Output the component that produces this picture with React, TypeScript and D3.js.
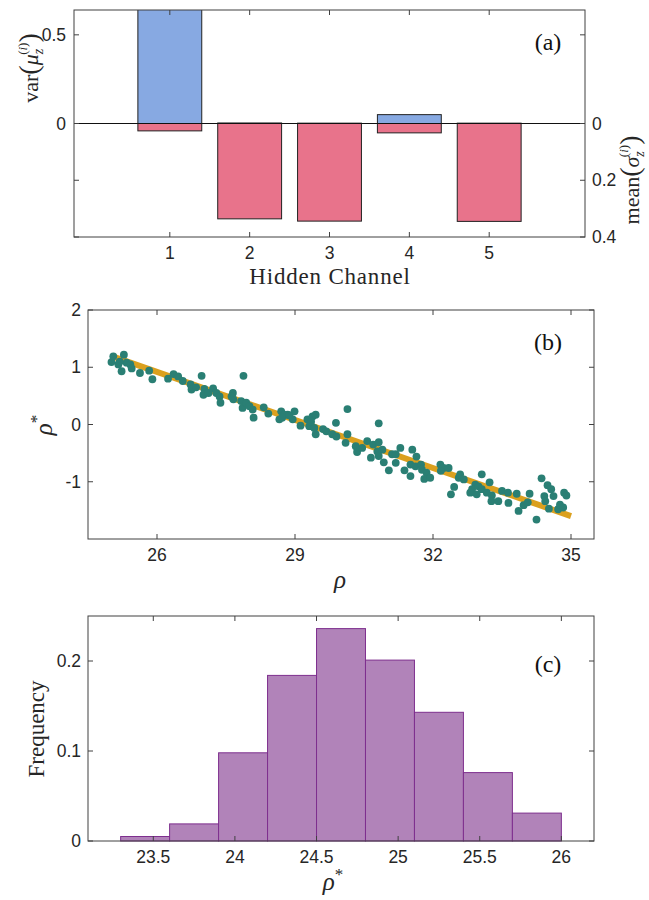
import React from 'react';
import * as d3 from 'd3';

// panel (a)
const channels = [1, 2, 3, 4, 5];
const varMu = [0.7, 0.003, 0.002, 0.05, 0.002];
const meanSigma = [0.026, 0.336, 0.344, 0.033, 0.345];

// panel (b)
const rho = [
  25.01, 25.05, 25.16, 25.23, 25.28, 25.34, 25.42, 25.45, 25.63, 25.83, 25.9, 26.24, 26.36, 26.46,
  26.56, 26.97, 26.73, 26.75, 26.85, 27.03, 27.01, 27.12, 27.22, 27.29, 27.36, 27.38, 25.19,
  27.65, 27.66, 27.62, 27.88, 27.83, 27.86, 27.94, 28.01, 28.08, 28.1, 28.32, 28.42, 28.7, 28.66,
  28.77, 28.84, 28.72, 28.99, 28.95, 28.88, 29.12, 29.27, 29.38, 29.45, 29.31, 29.42, 29.45,
  29.35, 29.61, 29.68, 29.89, 29.81, 29.9, 30.14, 30.14, 30.1, 30.32, 30.35, 30.46, 30.57,
  30.65, 30.7, 30.82, 30.82, 30.79, 30.9, 30.82, 30.93, 31.04, 31.11, 31.19, 31.29, 31.19,
  31.38, 31.55, 31.64, 31.51, 31.62, 31.51, 31.74, 31.76, 31.86, 31.81, 31.94, 32.16, 32.23,
  32.17, 32.34, 32.56, 32.46, 32.39, 32.59, 32.67, 33.06, 33.23, 32.92, 32.85, 32.81, 32.99,
  33.06, 32.95, 33.17, 33.28, 33.27, 33.42, 33.5, 33.63, 33.64, 33.82, 33.86, 33.97, 34.06,
  34.1, 34.25, 34.36, 34.49, 34.57, 34.62, 34.42, 34.44, 34.52, 34.72, 34.76, 34.83, 34.85, 34.9,
];
const rhoStar = [
  1.09, 1.19, 1.05, 0.93, 1.22, 1.08, 1.05, 0.98, 0.9, 0.94, 0.79, 0.8, 0.88, 0.84,
  0.76, 0.85, 0.7, 0.61, 0.65, 0.62, 0.52, 0.55, 0.63, 0.55, 0.49, 0.38, 1.1,
  0.55, 0.44, 0.49, 0.85, 0.41, 0.29, 0.38, 0.32, 0.26, 0.12, 0.3, 0.19, 0.23, 0.09,
  0.17, 0.17, 0.12, 0.23, 0.09, 0.16, -0.02, 0.09, 0.14, 0.17, -0.03, -0.06, -0.17,
  0.05, -0.08, -0.12, 0.03, -0.17, -0.21, 0.27, -0.17, -0.32, -0.38, -0.48, -0.41, -0.29,
  -0.58, -0.35, 0.02, -0.31, -0.47, -0.44, -0.55, -0.66, -0.8, -0.52, -0.52, -0.41, -0.67,
  -0.8, -0.44, -0.56, -0.7, -0.73, -0.9, -0.7, -0.79, -0.84, -0.95, -0.93, -0.7, -0.76,
  -0.81, -0.76, -0.93, -1.09, -1.22, -0.87, -0.96, -0.87, -1.01, -1.05, -1.13, -1.19, -1.08,
  -1.13, -1.22, -1.19, -1.24, -1.34, -1.34, -1.16, -1.19, -1.37, -1.21, -1.51, -1.41, -1.36,
  -1.21, -1.66, -0.94, -1.06, -1.13, -1.25, -1.25, -1.34, -1.47, -1.48, -1.4, -1.45, -1.19, -1.24,
];
const fitX = [25, 35];
const fitY = [1.2, -1.6];

// panel (c)
const binEdges = [23.3, 23.6, 23.9, 24.2, 24.5, 24.8, 25.1, 25.4, 25.7, 26.0];
const frequency = [0.005, 0.019, 0.098, 0.184, 0.236, 0.201, 0.143, 0.076, 0.031];

const tickFont = 'Liberation Sans, Arial, sans-serif';
const serif = 'Liberation Serif, Times New Roman, serif';
const axisColor = '#404040';
const textColor = '#262626';
const TL = 5;

const xA = d3.scaleLinear().domain([-0.2, 6.2]).range([74, 585]);
const yL = d3.scaleLinear().domain([-0.64, 0.64]).range([237, 10]);
const yR = d3.scaleLinear().domain([-0.4, 0.4]).range([10, 237]);

const xB = d3.scaleLinear().domain([24.5, 35.5]).range([88, 594]);
const yB = d3.scaleLinear().domain([-2, 2]).range([539, 310]);

const xC = d3.scaleLinear().domain([23.1, 26.2]).range([88, 594]);
const yC = d3.scaleLinear().domain([0, 0.25]).range([841, 616]);

const Box = ({ x0, x1, y0, y1 }) => (
  <rect x={x0} y={y0} width={x1 - x0} height={y1 - y0} fill="none" stroke={axisColor} strokeWidth={1} />
);

const XTicks = ({ scale, ticks, y0, y1, labels, fmt = (d) => String(d) }) => (
  <g>
    {ticks.map((t) => (
      <g key={t}>
        <line x1={scale(t)} x2={scale(t)} y1={y1} y2={y1 - TL} stroke={axisColor} />
        <line x1={scale(t)} x2={scale(t)} y1={y0} y2={y0 + TL} stroke={axisColor} />
        {labels && (
          <text x={scale(t)} y={y1 + 22} textAnchor="middle" fontFamily={tickFont} fontSize={17.5} fill={textColor}>
            {fmt(t)}
          </text>
        )}
      </g>
    ))}
  </g>
);

const YTicks = ({ positions, x0, x1 }) => (
  <g>
    {positions.map((p, i) => (
      <g key={i}>
        <line x1={x0} x2={x0 + TL} y1={p} y2={p} stroke={axisColor} />
        <line x1={x1} x2={x1 - TL} y1={p} y2={p} stroke={axisColor} />
      </g>
    ))}
  </g>
);

const PanelA = () => {
  const bw = 0.8;
  const yTickPos = [yL(0.5), yL(0), yR(0.2), yR(0.4)];
  return (
    <g>
      <defs>
        <clipPath id="clipA">
          <rect x={74} y={10} width={511} height={227} />
        </clipPath>
      </defs>
      <g clipPath="url(#clipA)">
        {channels.map((c, i) => (
          <rect key={'v' + c} x={xA(c - bw / 2)} y={yL(varMu[i])} width={xA(c + bw / 2) - xA(c - bw / 2)}
            height={yL(0) - yL(varMu[i])} fill="#87a9e2" stroke="#222" strokeWidth={1} />
        ))}
        {channels.map((c, i) => (
          <rect key={'m' + c} x={xA(c - bw / 2)} y={yR(0)} width={xA(c + bw / 2) - xA(c - bw / 2)}
            height={yR(meanSigma[i]) - yR(0)} fill="#e8738b" stroke="#222" strokeWidth={1} />
        ))}
      </g>
      <line x1={74} x2={585} y1={yL(0)} y2={yL(0)} stroke="#111" strokeWidth={1.2} />
      <Box x0={74} x1={585} y0={10} y1={237} />
      <XTicks scale={xA} ticks={channels} y0={10} y1={237} labels />
      <YTicks positions={yTickPos} x0={74} x1={585} />
      {[0.5, 0].map((t) => (
        <text key={t} x={66} y={yL(t) + 6} textAnchor="end" fontFamily={tickFont} fontSize={17.5} fill={textColor}>{t}</text>
      ))}
      {[0, 0.2, 0.4].map((t) => (
        <text key={t} x={592} y={yR(t) + 6} textAnchor="start" fontFamily={tickFont} fontSize={17.5} fill={textColor}>{t}</text>
      ))}
      <text x={330} y={284} textAnchor="middle" fontFamily={serif} fontSize={23} letterSpacing={0.8} fill={textColor}>Hidden Channel</text>
      <text x={548} y={50} textAnchor="middle" fontFamily={serif} fontSize={24} fill="#111">(a)</text>
      <text transform="translate(38,68) rotate(-90)" textAnchor="middle" fontFamily={serif} fontSize={22} fill={textColor}>
        var<tspan fontSize={28}>(</tspan>
        <tspan fontStyle="italic">μ</tspan>
        <tspan fontStyle="italic" fontSize={14} dy={5}>z</tspan>
        <tspan fontSize={13} dx={-6} dy={-16}>(</tspan>
        <tspan fontSize={13} fontStyle="italic">i</tspan>
        <tspan fontSize={13}>)</tspan>
        <tspan fontSize={28} dy={11}>)</tspan>
      </text>
      <text transform="translate(639,180) rotate(-90)" textAnchor="middle" fontFamily={serif} fontSize={22} fill={textColor}>
        mean<tspan fontSize={28}>(</tspan>
        <tspan fontStyle="italic">σ</tspan>
        <tspan fontStyle="italic" fontSize={14} dy={5}>z</tspan>
        <tspan fontSize={13} dx={-6} dy={-16}>(</tspan>
        <tspan fontSize={13} fontStyle="italic">i</tspan>
        <tspan fontSize={13}>)</tspan>
        <tspan fontSize={28} dy={11}>)</tspan>
      </text>
    </g>
  );
};

const PanelB = () => {
  const line = d3.line<number>().x((d, i) => xB(fitX[i])).y((d, i) => yB(fitY[i]));
  return (
    <g>
      <path d={line(fitX) || ''} stroke="#dba01e" strokeWidth={6} fill="none" />
      {rho.map((r, i) => (
        <circle key={i} cx={xB(r)} cy={yB(rhoStar[i])} r={3.9} fill="#2a7f74" />
      ))}
      <Box x0={88} x1={594} y0={310} y1={539} />
      <XTicks scale={xB} ticks={[26, 29, 32, 35]} y0={310} y1={539} labels />
      <YTicks positions={[2, 1, 0, -1].map(yB)} x0={88} x1={594} />
      {[2, 1, 0, -1].map((t) => (
        <text key={t} x={81} y={yB(t) + 6} textAnchor="end" fontFamily={tickFont} fontSize={17.5} fill={textColor}>{t}</text>
      ))}
      <text x={340} y={588} textAnchor="middle" fontFamily={serif} fontStyle="italic" fontSize={25} fill={textColor}>ρ</text>
      <text transform="translate(52,425) rotate(-90)" textAnchor="middle" fontFamily={serif} fontSize={25} fill={textColor}>
        <tspan fontStyle="italic">ρ</tspan><tspan fontSize={17} dy={-10}>*</tspan>
      </text>
      <text x={548} y={350} textAnchor="middle" fontFamily={serif} fontSize={24} fill="#111">(b)</text>
    </g>
  );
};

const PanelC = () => (
  <g>
    {frequency.map((f, i) => (
      <rect key={i} x={xC(binEdges[i])} y={yC(f)} width={xC(binEdges[i + 1]) - xC(binEdges[i])}
        height={yC(0) - yC(f)} fill="#b183b9" stroke="#7e2f8e" strokeWidth={1} />
    ))}
    <Box x0={88} x1={594} y0={616} y1={841} />
    <XTicks scale={xC} ticks={[23.5, 24, 24.5, 25, 25.5, 26]} y0={616} y1={841} labels />
    <YTicks positions={[0, 0.1, 0.2].map(yC)} x0={88} x1={594} />
    {[0, 0.1, 0.2].map((t) => (
      <text key={t} x={81} y={yC(t) + 6} textAnchor="end" fontFamily={tickFont} fontSize={17.5} fill={textColor}>{t}</text>
    ))}
    <text x={333} y={890} textAnchor="middle" fontFamily={serif} fontSize={25} fill={textColor}>
      <tspan fontStyle="italic">ρ</tspan><tspan fontSize={17} dy={-10}>*</tspan>
    </text>
    <text transform="translate(44,729) rotate(-90)" textAnchor="middle" fontFamily={serif} fontSize={23} fill={textColor}>Frequency</text>
    <text x={548} y={672} textAnchor="middle" fontFamily={serif} fontSize={24} fill="#111">(c)</text>
  </g>
);

export default function App() {
  return (
    <svg width={649} height={900} style={{ position: 'absolute', left: 0, top: 0, background: '#fff' }}>
      <PanelA />
      <PanelB />
      <PanelC />
    </svg>
  );
}
